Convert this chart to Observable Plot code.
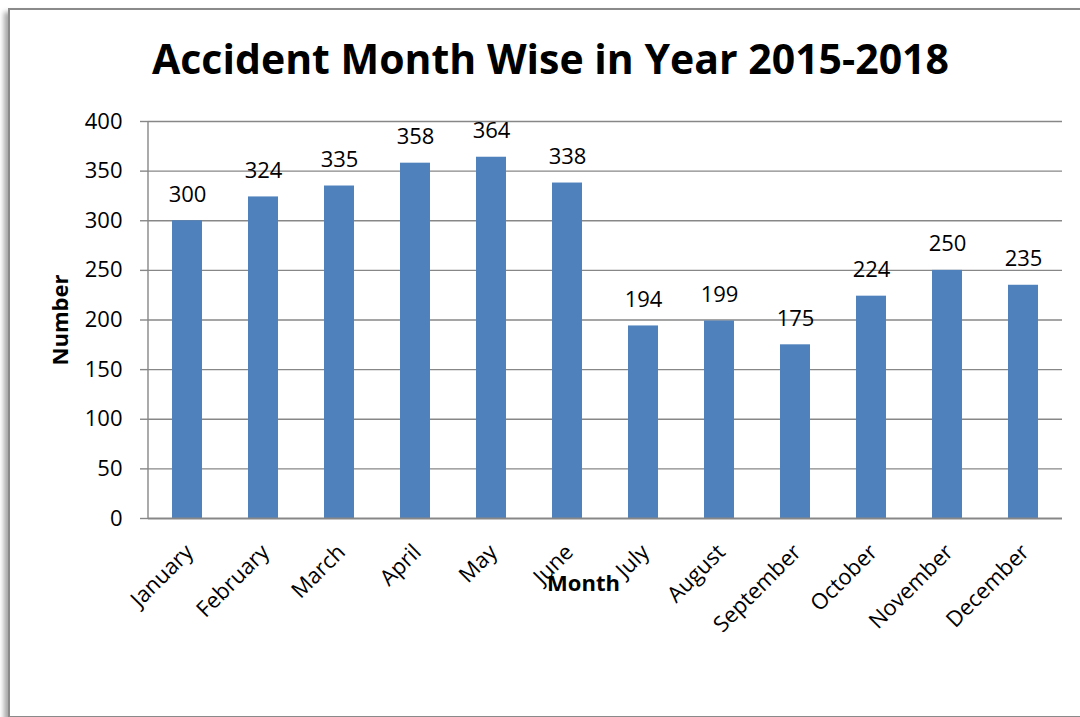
<!DOCTYPE html>
<html>
<head>
<meta charset="utf-8">
<script src="https://cdn.jsdelivr.net/npm/d3@7"></script>
<script src="https://cdn.jsdelivr.net/npm/@observablehq/plot@0.6"></script>
<style>
  html, body { margin: 0; padding: 0; background: #fff; }
  #wrap { position: relative; width: 1080px; height: 717px; overflow: hidden; }
  #frame { position: absolute; left: 8px; top: 8px; width: 1100px; height: 706px;
           border: 2px solid #8a8a8a; box-shadow: -4px 4px 5px rgba(0,0,0,0.35); background: #fff; }
  #chart { position: absolute; left: 0; top: 0; }
</style>
</head>
<body>
<div id="wrap"><div id="frame"></div><div id="chart"></div></div>
<script>
const months = ["January","February","March","April","May","June","July","August","September","October","November","December"];
const values = [300, 324, 335, 358, 364, 338, 194, 199, 175, 224, 250, 235];
const yTicks = [0, 50, 100, 150, 200, 250, 300, 350, 400];
const title = "Accident Month Wise in Year 2015-2018";
const xLabel = "Month";
const yLabel = "Number";

const data = months.map((m, i) => ({month: m, value: values[i]}));
const font = "'Open Sans', sans-serif";
const gray = "#878787";

const plot = Plot.plot({
  width: 1080, height: 717,
  marginLeft: 148, marginRight: 18, marginTop: 121, marginBottom: 199,
  style: {fontFamily: font, fontSize: "22px", background: "transparent", color: "#000", overflow: "visible"},
  x: {domain: months, paddingInner: 0.6, paddingOuter: 0.3, axis: null},
  y: {domain: [0, 400], axis: null},
  marks: [
    Plot.ruleY(yTicks.filter(d => d > 0), {stroke: gray, strokeWidth: 1.4}),
    Plot.axisY({ticks: yTicks, tickSize: 8, tickPadding: 18, stroke: gray, strokeWidth: 1.4, fontSize: 22, label: null, fill: "#000"}),
    Plot.barY(data, {x: "month", y: "value", fill: "#4F81BD"}),
    Plot.ruleY([0], {stroke: gray, strokeWidth: 2}),
    Plot.text(data, {x: "month", y: "value", text: d => String(d.value), dy: -19, lineAnchor: "bottom", fontSize: 22, fill: "#000"}),
    Plot.text(data, {x: "month", y: () => 0, text: "month", rotate: -45, textAnchor: "end", dx: 2, dy: 30, fontSize: 22, fill: "#000"}),
    Plot.text([xLabel], {frameAnchor: "bottom", text: d => d, textAnchor: "middle", lineAnchor: "middle", dx: -22, dy: 65, fontSize: 22, fontWeight: "bold", fill: "#000"}),
    Plot.text([yLabel], {frameAnchor: "left", text: d => d, textAnchor: "middle", lineAnchor: "middle", rotate: -90, dx: -88, fontSize: 22, fontWeight: "bold", fill: "#000"}),
    Plot.text([title], {frameAnchor: "top", text: d => d, textAnchor: "middle", lineAnchor: "middle", dx: -55, dy: -61, fontSize: 41, fontWeight: "bold", fill: "#000"})
  ]
});

// left axis line using the plot's own scales
const xs = plot.scale("x"), ys = plot.scale("y");
const xr = xs.range;
d3.select(plot).append("line")
  .attr("x1", xr[0]).attr("x2", xr[0])
  .attr("y1", ys.apply(0)).attr("y2", ys.apply(400))
  .attr("stroke", gray).attr("stroke-width", 1.4);

document.getElementById("chart").appendChild(plot);
</script>
</body>
</html>
